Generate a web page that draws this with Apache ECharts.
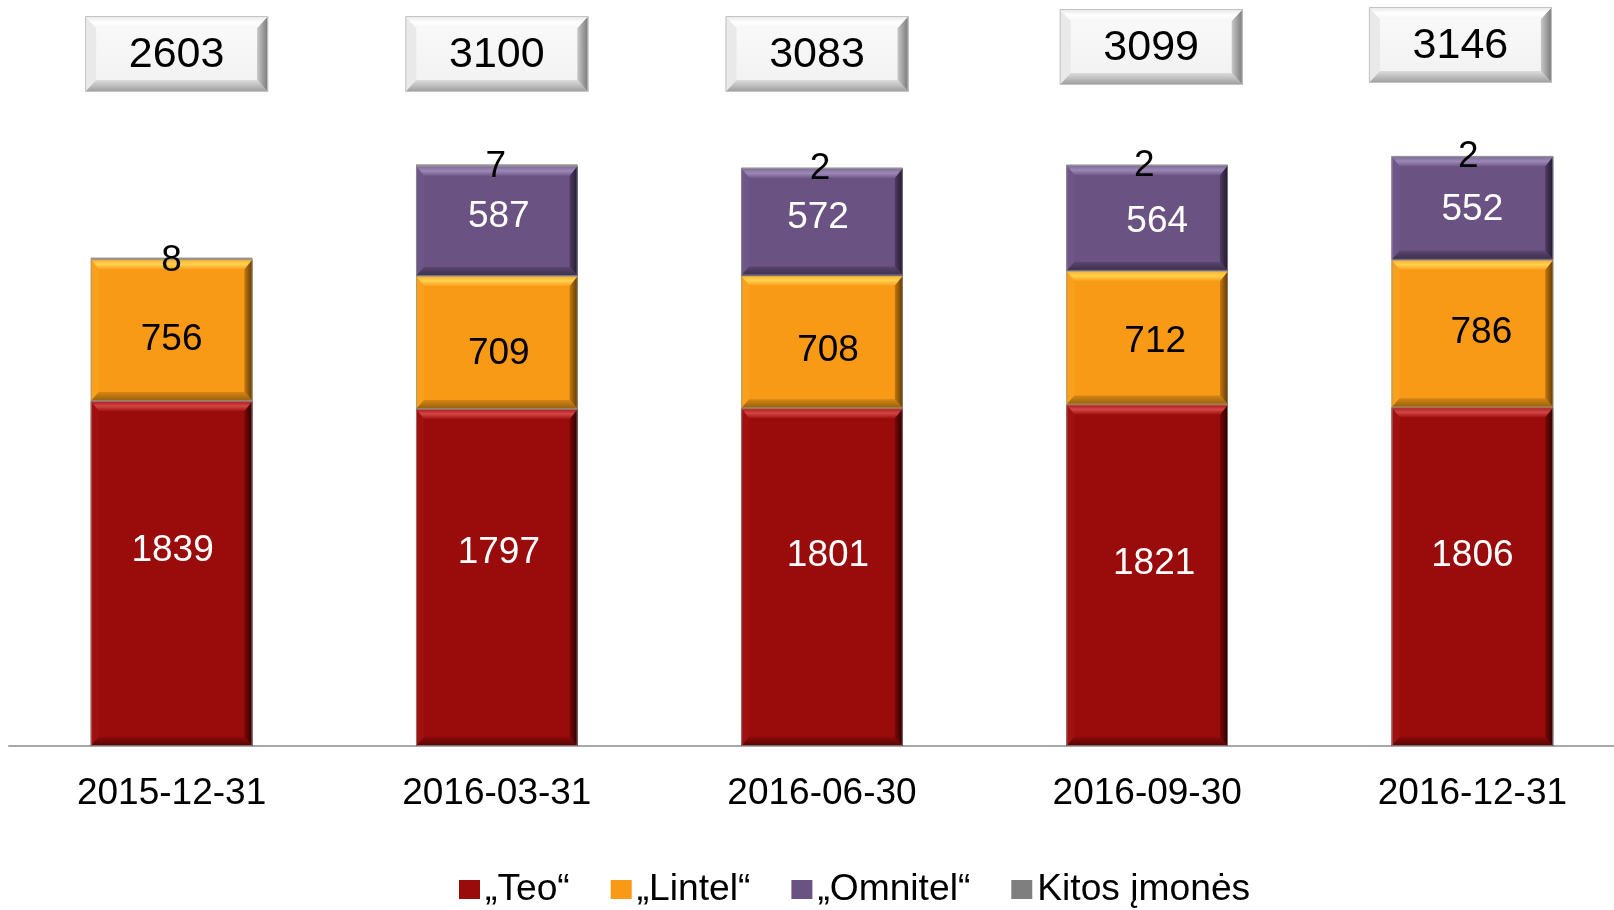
<!DOCTYPE html>
<html>
<head>
<meta charset="utf-8">
<script src="https://cdn.jsdelivr.net/npm/echarts@6/dist/echarts.min.js"></script>
<style>
html,body{margin:0;padding:0;background:#fff;}
#chart{width:1614px;height:910px;}
</style>
</head>
<body>
<div id="chart"></div>
<script>
// ---- data ----
const categories = ['2015-12-31', '2016-03-31', '2016-06-30', '2016-09-30', '2016-12-31'];
const seriesNames = ['„Teo“', '„Lintel“', '„Omnitel“', 'Kitos įmonės'];
const teo     = [1839, 1797, 1801, 1821, 1806];
const lintel  = [756, 709, 708, 712, 786];
const omnitel = [0, 587, 572, 564, 552];
const kitos   = [8, 7, 2, 2, 2];
const totals  = [2603, 3100, 3083, 3099, 3146];

// ---- styling (not data) ----
const FONT = '"Liberation Sans", Arial, sans-serif';
const palettes = [
  { base:'#9A0C0C', top:['#B01616','#D24646','#A51212'], right:['#7A0808','#2A0000'], bottom:['#8A0A0A','#560505'], left:'#A01010', text:'#FFFFFF' },
  { base:'#F99A17', top:['#FBAE2E','#FFD24E','#F9A01E'], right:['#C47810','#5E3804'], bottom:['#D88512','#93600E'], left:'#F9A01D', text:'#000000' },
  { base:'#6A5283', top:['#7C6698','#9C88B6','#725B8B'], right:['#4E3C63','#22182E'], bottom:['#5A466F','#3B2D4C'], left:'#6E5688', text:'#FFFFFF' },
  { base:'#7F7F7F', top:['#909090','#B0B0B0','#888888'], right:['#555555','#2A2A2A'], bottom:['#6A6A6A','#4A4A4A'], left:'#858585', text:'#000000' }
];
const labelOffsets = [
  [[1,-23],[2,-25],[6,-21],[7,-11],[0,-21]],
  [[0,9.5],[2,11.5],[6,9],[8,4],[9,-1]],
  [[0,0],[2,-4],[-4,-4],[10,4],[0,2]],
  [[0,2],[-1,2],[-2,1],[-3,1],[-4,1]]
];
const boxOffsets = [[5,2],[0,2],[-5,2],[4,-5],[-12,-7]];
const BAR_FRAC = 0.497;

function vGrad(stops){
  return { type:'linear', x:0, y:0, x2:0, y2:1,
    colorStops: stops.map((c,i)=>({offset: stops.length===1?0:i/(stops.length-1), color:c})) };
}
function hGrad(stops){
  return { type:'linear', x:0, y:0, x2:1, y2:0,
    colorStops: stops.map((c,i)=>({offset: stops.length===1?0:i/(stops.length-1), color:c})) };
}

function bevelShapes(x0, y0, x1, y1, bt, bs, bb, pal, outline){
  const h = y1 - y0, w = x1 - x0;
  const children = [];
  children.push({ type:'rect', shape:{x:x0, y:y0, width:w, height:h}, style:{ fill: pal.base } });
  if (h > 6) {
    const t = Math.min(bt, h/2), s = Math.min(bs, w/2), b = Math.min(bb, h/2);
    const ix0 = x0 + s, ix1 = x1 - s, iy0 = y0 + t, iy1 = y1 - b;
    children.push({ type:'polygon', shape:{points:[[x0,y0],[ix0,iy0],[ix0,iy1],[x0,y1]]}, style:{ fill: pal.left } });
    children.push({ type:'polygon', shape:{points:[[x0,y1],[x1,y1],[ix1,iy1],[ix0,iy1]]}, style:{ fill: vGrad(pal.bottom) } });
    children.push({ type:'polygon', shape:{points:[[x1,y0],[ix1,iy0],[ix1,iy1],[x1,y1]]}, style:{ fill: hGrad(pal.right) } });
    children.push({ type:'polygon', shape:{points:[[x0,y0],[x1,y0],[ix1,iy0],[ix0,iy0]]}, style:{ fill: vGrad(pal.top) } });
  }
  children.push({ type:'rect', shape:{x:x0+0.5, y:y0+0.5, width:w-1, height:Math.max(h-1,0)},
    style:{ fill:null, stroke: outline, lineWidth:1 } });
  return children;
}

function makeSegmentSeries(k){
  const arrs = [teo, lintel, omnitel, kitos];
  const data = categories.map((c, i) => {
    let start = 0;
    for (let j = 0; j < k; j++) start += arrs[j][i];
    const v = arrs[k][i];
    return [i, start, start + v, v];
  });
  const pal = palettes[k];
  return {
    type:'custom',
    name: seriesNames[k],
    itemStyle:{ color: pal.base },
    encode:{ x:0, y:[1,2] },
    data,
    z: 2 + k,
    renderItem(params, api){
      const i = api.value(0), s = api.value(1), e = api.value(2), v = api.value(3);
      if (!v) return;
      const pb = api.coord([i, s]), pt = api.coord([i, e]);
      const bw = api.size([1, 0])[0] * BAR_FRAC;
      const x0 = pb[0] - bw/2, x1 = pb[0] + bw/2;
      const y0 = pt[1], y1 = pb[1];
      const children = bevelShapes(x0, y0, x1, y1, 10, 8, 9, pal, 'rgba(150,150,150,0.7)');
      const off = labelOffsets[k][i];
      children.push({
        type:'text', z2: 100,
        style:{ text: String(v), x: pb[0] + off[0], y: (y0 + y1)/2 + off[1],
          fill: pal.text, fontSize: 37, fontFamily: FONT,
          align:'center', verticalAlign:'middle', textAlign:'center', textVerticalAlign:'middle' }
      });
      return { type:'group', children };
    }
  };
}

const boxPal = { base: vGrad(['#FAFAFA','#F1F1F1']), top:['#E6E6E6','#FFFFFF','#F6F6F6'],
  right:['#C8C8C8','#777777'], bottom:['#DCDCDC','#9C9C9C'], left:'#E9E9E9' };

const totalSeries = {
  type:'custom',
  name:'Total',
  data: totals.map((t, i) => [i, t]),
  encode:{ x:0, y:1 },
  z: 10,
  renderItem(params, api){
    const i = api.value(0), t = api.value(1);
    const cx = api.coord([i, 0])[0] + boxOffsets[i][0];
    const cy = params.coordSys.y + boxOffsets[i][1];
    const w = 183, h = 76;
    const x0 = cx - w/2, y0 = cy - h/2;
    const children = bevelShapes(x0, y0, x0 + w, y0 + h, 12, 11, 12, boxPal, '#C4C4C4');
    children.push({
      type:'text', z2: 100,
      style:{ text: String(t), x: cx, y: cy + 1, fill:'#000', fontSize: 43, fontFamily: FONT,
        align:'center', verticalAlign:'middle', textAlign:'center', textVerticalAlign:'middle' }
    });
    return { type:'group', children };
  }
};

const chart = echarts.init(document.getElementById('chart'), null, { renderer:'canvas' });
chart.setOption({
  animation:false,
  backgroundColor:'#FFFFFF',
  grid:{ left: 9, width: 1626, top: 52, bottom: 164, outerBoundsMode:'none', containLabel:false },
  xAxis:{
    type:'category',
    data: categories,
    axisLine:{ show:true, lineStyle:{ color:'#A8A8A8', width:2 } },
    axisTick:{ show:false },
    axisLabel:{ color:'#000', fontSize:37, fontFamily: FONT, margin: 29 },
    splitLine:{ show:false }
  },
  yAxis:{ type:'value', min:0, max:3700, show:false, splitLine:{show:false} },
  legend:{
    data: seriesNames,
    left: 459, top: 871, padding: 0,
    icon:'rect', itemWidth:21, itemHeight:19, itemGap:41,
    textStyle:{ color:'#000', fontSize:37.2, fontFamily: FONT },
    selectedMode:false
  },
  series: [0,1,2,3].map(makeSegmentSeries).concat([totalSeries])
});
</script>
</body>
</html>
